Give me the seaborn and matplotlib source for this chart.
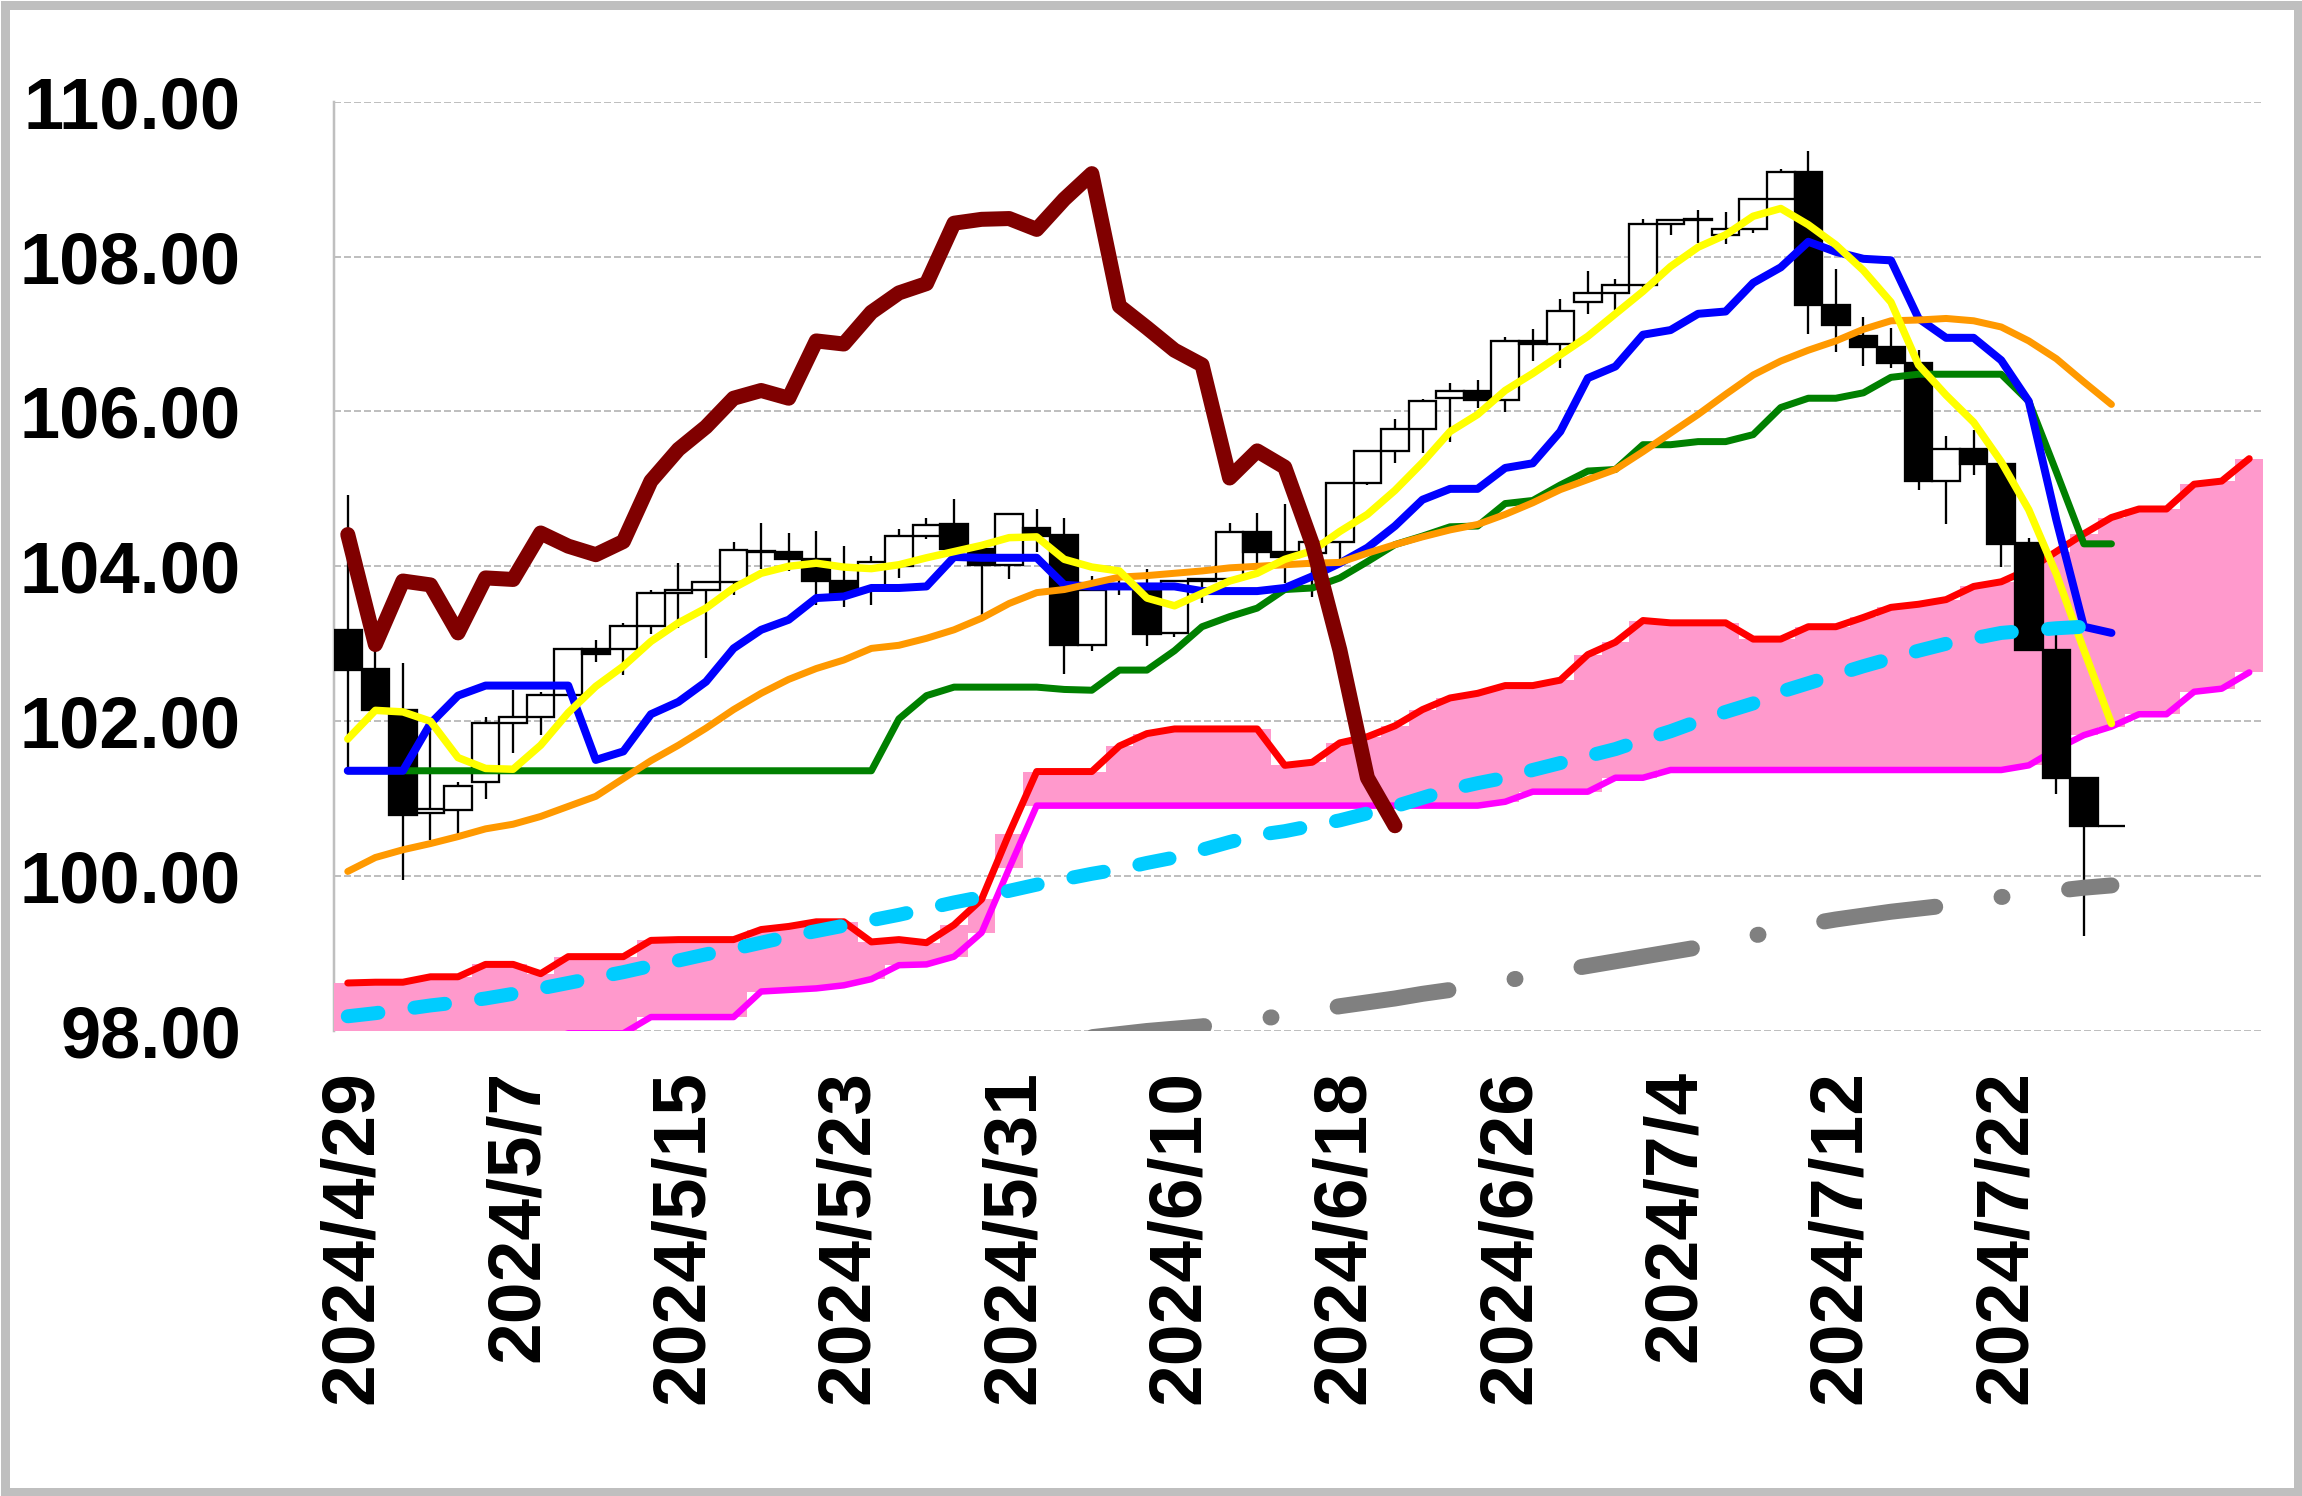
import numpy as np
import matplotlib
matplotlib.use("Agg")
import matplotlib.pyplot as plt
import matplotlib.transforms as mtransforms
import seaborn as sns
from matplotlib.patches import Rectangle

# ---------------- data ----------------
tick_labels = ["2024/4/29", "2024/5/7", "2024/5/15", "2024/5/23", "2024/5/31",
               "2024/6/10", "2024/6/18", "2024/6/26", "2024/7/4", "2024/7/12",
               "2024/7/22"]
n_categories = 70
tick_step = 6

open_ = [103.18, 102.67, 102.15, 100.81, 100.85, 101.22, 101.98, 102.06, 102.34, 102.93,
         102.93, 103.23, 103.66, 103.69, 103.80, 104.19, 104.19, 104.09, 103.81, 103.70,
         104.00, 104.39, 104.54, 104.22, 104.02, 104.50, 104.41, 102.99, 103.74, 103.70,
         103.14, 103.81, 103.83, 104.44, 104.19, 104.17, 104.31, 105.08, 105.49, 105.77,
         106.17, 106.26, 106.15, 106.91, 106.87, 107.41, 107.53, 107.63, 108.42, 108.47,
         108.28, 108.35, 108.74, 109.09, 107.38, 106.97, 106.83, 106.62, 105.10, 105.51,
         105.32, 104.30, 102.92, 101.27, 100.65]
high = [104.92, 102.90, 102.75, 101.97, 101.22, 102.05, 102.40, 102.38, 102.95, 103.05,
        103.27, 103.70, 104.04, 103.81, 104.31, 104.56, 104.43, 104.45, 104.26, 104.13,
        104.48, 104.63, 104.87, 104.25, 104.69, 104.74, 104.63, 103.87, 103.91, 103.97,
        103.81, 103.83, 104.56, 104.69, 104.81, 104.35, 105.08, 105.49, 105.90, 106.16,
        106.37, 106.40, 106.96, 107.06, 107.45, 107.81, 107.71, 108.49, 108.49, 108.60,
        108.58, 108.76, 109.13, 109.36, 107.84, 107.22, 107.08, 106.79, 105.68, 105.76,
        105.32, 104.36, 103.16, 101.27, 100.65]
low = [101.40, 102.13, 99.95, 100.47, 100.52, 100.99, 101.59, 101.82, 102.34, 102.77,
       102.60, 103.12, 103.20, 102.81, 103.63, 103.96, 103.94, 103.50, 103.48, 103.50,
       103.85, 104.35, 104.15, 103.37, 103.84, 104.19, 102.61, 102.91, 103.63, 102.97,
       103.09, 103.53, 103.80, 103.90, 103.78, 103.61, 104.10, 105.05, 105.34, 105.46,
       105.61, 106.04, 105.99, 106.65, 106.56, 107.26, 107.31, 107.60, 108.28, 108.17,
       108.16, 108.30, 108.74, 107.00, 106.77, 106.58, 106.56, 104.98, 104.55, 105.18,
       103.99, 102.92, 101.06, 99.23, 100.65]
close = [102.66, 102.14, 100.79, 100.87, 101.16, 101.98, 102.06, 102.34, 102.93, 102.87,
         103.23, 103.66, 103.69, 103.80, 104.21, 104.20, 104.09, 103.81, 103.66, 104.06,
         104.39, 104.53, 104.22, 104.02, 104.68, 104.39, 102.98, 103.70, 103.76, 103.13,
         103.81, 103.83, 104.44, 104.19, 104.12, 104.31, 105.08, 105.49, 105.77, 106.14,
         106.26, 106.15, 106.91, 106.87, 107.30, 107.53, 107.63, 108.42, 108.47, 108.48,
         108.35, 108.74, 109.09, 107.38, 107.12, 106.83, 106.62, 105.10, 105.51, 105.32,
         104.29, 102.92, 101.27, 100.65, 100.65]

tenkan = [101.36, 101.36, 101.36, 101.97, 102.33, 102.46, 102.46, 102.46, 102.46, 101.50,
          101.61, 102.09, 102.25, 102.51, 102.94, 103.18, 103.31, 103.59, 103.61, 103.72,
          103.72, 103.74, 104.12, 104.11, 104.11, 104.11, 103.76, 103.74, 103.74, 103.74,
          103.74, 103.68, 103.68, 103.68, 103.72, 103.87, 104.04, 104.24, 104.52, 104.86,
          105.00, 105.00, 105.27, 105.33, 105.74, 106.43, 106.58, 106.99, 107.05, 107.26,
          107.29, 107.66, 107.86, 108.19, 108.06, 107.97, 107.95, 107.20, 106.95, 106.95,
          106.66, 106.13, 104.60, 103.22, 103.14]
kijun = [101.36, 101.36, 101.36, 101.36, 101.36, 101.36, 101.36, 101.36, 101.36, 101.36,
         101.36, 101.36, 101.36, 101.36, 101.36, 101.36, 101.36, 101.36, 101.36, 101.36,
         102.03, 102.33, 102.44, 102.44, 102.44, 102.44, 102.41, 102.40, 102.66, 102.66,
         102.91, 103.22, 103.35, 103.46, 103.70, 103.72, 103.85, 104.06, 104.28, 104.39,
         104.51, 104.52, 104.81, 104.85, 105.05, 105.23, 105.25, 105.57, 105.57, 105.61,
         105.61, 105.70, 106.05, 106.17, 106.17, 106.24, 106.44, 106.48, 106.48, 106.48,
         106.48, 106.13, 105.22, 104.29, 104.29]
ma_short = [101.77, 102.14, 102.12, 102.00, 101.53, 101.39, 101.38, 101.69, 102.11, 102.45,
            102.71, 103.03, 103.27, 103.46, 103.72, 103.91, 104.00, 104.04, 103.99, 103.97,
            104.02, 104.11, 104.19, 104.27, 104.37, 104.38, 104.09, 103.99, 103.94, 103.59,
            103.49, 103.65, 103.81, 103.91, 104.09, 104.20, 104.45, 104.67, 104.98, 105.34,
            105.74, 105.96, 106.27, 106.49, 106.73, 106.97, 107.26, 107.55, 107.87, 108.12,
            108.28, 108.52, 108.62, 108.41, 108.15, 107.82, 107.41, 106.60, 106.21, 105.86,
            105.35, 104.73, 103.90, 102.92, 101.97]
ma_long = [100.06, 100.24, 100.34, 100.42, 100.51, 100.61, 100.67, 100.77, 100.90, 101.03,
           101.26, 101.49, 101.69, 101.91, 102.15, 102.36, 102.54, 102.68, 102.79, 102.94,
           102.98, 103.07, 103.18, 103.33, 103.52, 103.66, 103.70, 103.78, 103.86, 103.88,
           103.91, 103.94, 103.98, 104.00, 104.02, 104.04, 104.05, 104.17, 104.28, 104.38,
           104.47, 104.54, 104.67, 104.82, 104.99, 105.12, 105.25, 105.48, 105.72, 105.96,
           106.22, 106.47, 106.65, 106.79, 106.91, 107.06, 107.17, 107.18, 107.20, 107.17,
           107.09, 106.91, 106.68, 106.38, 106.09]
chikou = [104.41, 102.99, 103.81, 103.76, 103.14, 103.85, 103.83, 104.43, 104.26, 104.15,
          104.32, 105.10, 105.51, 105.80, 106.17, 106.27, 106.17, 106.91, 106.87, 107.28,
          107.53, 107.65, 108.43, 108.48, 108.49, 108.35, 108.74, 109.07, 107.36, 107.08,
          106.79, 106.60, 105.14, 105.49, 105.28, 104.29, 102.92, 101.27, 100.65]
senkou_a = [98.62, 98.63, 98.63, 98.70, 98.70, 98.86, 98.86, 98.74, 98.96, 98.96,
            98.96, 99.17, 99.18, 99.18, 99.18, 99.31, 99.35, 99.41, 99.41, 99.15,
            99.18, 99.14, 99.37, 99.70, 100.55, 101.35, 101.35, 101.35, 101.68, 101.84,
            101.90, 101.90, 101.90, 101.90, 101.43, 101.47, 101.72, 101.80, 101.94, 102.15,
            102.30, 102.36, 102.46, 102.46, 102.53, 102.86, 103.02, 103.30, 103.27, 103.27,
            103.27, 103.06, 103.06, 103.22, 103.22, 103.34, 103.47, 103.51, 103.57, 103.74,
            103.80, 103.96, 104.19, 104.42, 104.63, 104.74, 104.74, 105.06, 105.10, 105.39]
senkou_b = [97.85, 97.85, 97.85, 97.85, 97.85, 97.85, 97.85, 97.85, 97.97, 97.97,
            97.97, 98.18, 98.18, 98.18, 98.18, 98.51, 98.53, 98.55, 98.59, 98.67,
            98.85, 98.86, 98.96, 99.27, 100.10, 100.91, 100.91, 100.91, 100.91, 100.91,
            100.91, 100.91, 100.91, 100.91, 100.91, 100.91, 100.91, 100.91, 100.91, 100.91,
            100.91, 100.91, 100.96, 101.09, 101.09, 101.09, 101.27, 101.27, 101.37, 101.37,
            101.37, 101.37, 101.37, 101.37, 101.37, 101.37, 101.37, 101.37, 101.37, 101.37,
            101.37, 101.43, 101.64, 101.82, 101.93, 102.09, 102.09, 102.38, 102.42, 102.63]
trend_cyan = [98.19, 98.23, 98.28, 98.33, 98.37, 98.42, 98.48, 98.55, 98.62, 98.69,
              98.76, 98.84, 98.91, 98.99, 99.06, 99.14, 99.22, 99.29, 99.36, 99.43,
              99.50, 99.58, 99.66, 99.73, 99.81, 99.89, 99.96, 100.03, 100.09, 100.17,
              100.24, 100.34, 100.44, 100.53, 100.58, 100.65, 100.72, 100.81, 100.90, 101.01,
              101.12, 101.20, 101.27, 101.37, 101.46, 101.55, 101.64, 101.76, 101.87, 102.00,
              102.12, 102.23, 102.38, 102.49, 102.60, 102.71, 102.81, 102.91, 103.00, 103.07,
              103.14, 103.17, 103.20, 103.22, 103.24]
gray_start = 20
trend_gray = [97.55, 97.61, 97.67, 97.72, 97.78, 97.83, 97.88, 97.92, 97.96, 98.00,
              98.03, 98.06, 98.10, 98.15, 98.20, 98.26, 98.32, 98.37, 98.42, 98.48,
              98.53, 98.59, 98.65, 98.71, 98.78, 98.84, 98.90, 98.96, 99.02, 99.08,
              99.15, 99.23, 99.30, 99.38, 99.44, 99.49, 99.54, 99.58, 99.62, 99.68,
              99.73, 99.77, 99.81, 99.85, 99.88]

# ---------------- figure ----------------
sns.set_style("white")
plt.rcParams["font.family"] = ["Liberation Sans", "DejaVu Sans"]

W, H, DPI = 2302, 1496, 100
fig = plt.figure(figsize=(W / DPI, H / DPI), dpi=DPI)
fig.patch.set_facecolor("white")
ax = fig.add_axes([334 / W, 1 - 1031 / H, (2263 - 334) / W, (1031 - 101.6) / H])
ax.set_facecolor("white")

px = 72.0 / DPI  # points per pixel

x_all = np.arange(n_categories)
x_c = np.arange(len(close))

# cloud (kumo) as gapless columns between the two spans
a = np.array(senkou_a)
b = np.array(senkou_b)
ax.bar(x_all, np.abs(a - b), bottom=np.minimum(a, b), width=1.0,
       color="#FF99CC", linewidth=0, zorder=1)

def add_line(x, y, color, lw_px, z, style=None, cap="round"):
    sns.lineplot(x=list(x), y=list(y), ax=ax, color=color, linewidth=lw_px * px,
                 sort=False, estimator=None, legend=False)
    ln = ax.lines[-1]
    ln.set_zorder(z)
    ln.set_solid_capstyle(cap)
    ln.set_solid_joinstyle("round")
    if style is not None:
        ln.set_linestyle(style)
        ln.set_dash_capstyle("round")
    return ln

add_line(x_all, senkou_a, "#FF0000", 7.0, 2)
add_line(x_all, senkou_b, "#FF00FF", 6.5, 2)

# candles
o = np.array(open_)
c = np.array(close)
up = c >= o
ax.vlines(x_c, low, high, color="black", linewidth=2.3 * px, zorder=3)
ax.bar(x_c, np.abs(c - o), bottom=np.minimum(o, c), width=1.0,
       color=np.where(up, "white", "black"), edgecolor="black",
       linewidth=2.3 * px, zorder=4)

# indicator lines
add_line(x_c, kijun, "#008000", 7.0, 5)
add_line(x_c, tenkan, "#0000FF", 8.0, 6)
add_line(x_c, ma_long, "#FF9900", 7.0, 6.5)
add_line(x_c, ma_short, "#FFFF00", 7.5, 7)
add_line(x_c, trend_cyan, "#00CCFF", 14, 8, style=(0, (2.2, 2.6)))
add_line(np.arange(gray_start, gray_start + len(trend_gray)), trend_gray, "#808080", 16, 8,
         style=(3.2, (7.0, 4.19, 0.06, 4.19)))
add_line(np.arange(len(chikou)), chikou, "#800000", 15, 9)

# axes styling
ax.set_xlim(-0.5, n_categories - 0.5)
ax.set_ylim(98, 110)
ax.set_yticks(np.arange(98, 110.01, 2))
ax.set_yticklabels([f"{v:.2f}" for v in np.arange(98, 110.01, 2)])
ax.set_xticks(np.arange(0, len(tick_labels) * tick_step, tick_step))
ax.set_xticklabels(tick_labels, rotation=90)
ax.set_xlabel("")
ax.set_ylabel("")

ax.grid(False)
for v in np.arange(98, 110.01, 2):
    ax.axhline(v, color="#BFBFBF", linewidth=2 * px, linestyle=(0, (3.5, 1.5)), zorder=0.5)

for s in ["top", "right", "bottom"]:
    ax.spines[s].set_visible(False)
ax.spines["left"].set_color("#BFBFBF")
ax.spines["left"].set_linewidth(2.5 * px)
ax.spines["left"].set_zorder(0.6)

ax.tick_params(axis="y", direction="out", length=23 * px, width=2 * px, color="#BFBFBF",
               pad=70 * px, labelsize=52, labelcolor="black")
ax.tick_params(axis="x", length=0, pad=39 * px, labelsize=54, labelcolor="black")
for t in ax.get_yticklabels() + ax.get_xticklabels():
    t.set_fontweight("bold")
shift = mtransforms.ScaledTranslation(5 / DPI, 0, fig.dpi_scale_trans)
for t in ax.get_xticklabels():
    t.set_transform(t.get_transform() + shift)

# outer frame
lw_frame = 9
fig.patches.append(Rectangle((lw_frame / 2 / W, lw_frame / 2 / H), 1 - lw_frame / W, 1 - lw_frame / H,
                             transform=fig.transFigure, fill=False, edgecolor="#BFBFBF",
                             linewidth=lw_frame * px, zorder=10))

fig.savefig("out.png", dpi=DPI, facecolor="white")
